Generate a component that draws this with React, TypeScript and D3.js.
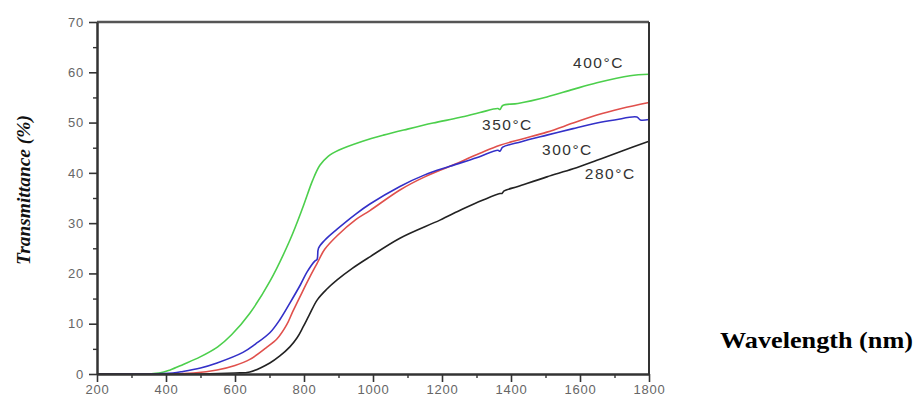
import { useEffect, useRef } from "react";
import * as d3 from "d3";

type Pt = [number, number];

// Transmittance (%) vs wavelength (nm)
const green400: Pt[] = [
  [200, 0], [300, 0], [380, 0.2], [412, 0.8], [450, 1.9], [499, 3.4], [550, 5.4],
  [590, 7.8], [643, 12.1], [701, 18.4], [759, 26.6], [797, 33.2], [825, 38.5],
  [846, 41.5], [870, 43.3], [900, 44.5], [970, 46.3], [1030, 47.5], [1100, 48.7],
  [1174, 49.9], [1250, 51], [1310, 52], [1362, 52.8], [1368, 52.6], [1376, 53.4],
  [1420, 53.8], [1504, 55.1], [1580, 56.6], [1649, 57.9], [1745, 59.3], [1800, 59.6],
];

const red350: Pt[] = [
  [200, 0], [400, 0], [480, 0.2], [548, 0.8], [600, 1.7], [643, 2.9], [690, 5.2],
  [722, 7], [750, 9.8], [768, 12.5], [795, 16.3], [817, 19.3], [838, 22], [860, 24.8],
  [896, 27.5], [950, 30.7], [991, 32.5], [1078, 36.6], [1150, 39.2], [1223, 41.3],
  [1310, 43.9], [1368, 45.5], [1430, 46.7], [1504, 48.1], [1580, 49.9], [1649, 51.5],
  [1720, 52.8], [1800, 54],
];

const blue300: Pt[] = [
  [200, 0], [350, 0], [420, 0.2], [449, 0.5], [500, 1.2], [548, 2.2], [623, 4.3],
  [660, 6], [701, 8.2], [730, 10.8], [759, 14.1], [790, 17.8], [809, 20.3], [832, 22.5],
  [838, 22.8], [842, 25], [860, 26.6], [896, 28.8], [950, 31.8], [991, 33.8],
  [1078, 37.3], [1150, 39.6], [1223, 41.3], [1300, 43], [1362, 44.5], [1368, 44.3],
  [1376, 45.1], [1430, 46.2], [1504, 47.5], [1580, 48.8], [1649, 49.9], [1700, 50.5],
  [1765, 51.1], [1775, 50.5], [1800, 50.6],
];

const black280: Pt[] = [
  [200, 0], [500, 0], [600, 0.2], [643, 0.4], [701, 2.2], [730, 3.6], [759, 5.4],
  [780, 7.2], [797, 9.3], [815, 11.7], [838, 14.7], [865, 16.8], [896, 18.7],
  [940, 21], [991, 23.3], [1078, 27], [1194, 30.6], [1260, 32.8], [1319, 34.6],
  [1368, 35.9], [1374, 35.9], [1380, 36.4], [1420, 37.3], [1504, 39.2], [1580, 40.8],
  [1649, 42.5], [1720, 44.3], [1800, 46.3],
];

const seriesNames = ["400°C", "350°C", "300°C", "280°C"];
const seriesColors = ["#4ccf4c", "#e0504c", "#3330c8", "#222222"];
const seriesData = [green400, red350, blue300, black280];
// where each curve label sits (nm, %)
const labelPos: Pt[] = [[1580, 60.8], [1316, 48.5], [1490, 43.5], [1614, 38.8]];

const xTicks = [200, 400, 600, 800, 1000, 1200, 1400, 1600, 1800];
const yTicks = [0, 10, 20, 30, 40, 50, 60, 70];

export default function App() {
  const svgRef = useRef<SVGSVGElement>(null);

  useEffect(() => {
    if (!svgRef.current) return;
    const svg = d3.select(svgRef.current);
    svg.selectAll("*").remove();

    const margin = { top: 22, left: 97, right: 269, bottom: 25 };
    const width = 918;
    const height = 399;
    const chartW = width - margin.left - margin.right;
    const chartH = height - margin.top - margin.bottom;

    const x = d3.scaleLinear().domain([200, 1800]).range([0, chartW]);
    const y = d3.scaleLinear().domain([0, 70]).range([chartH, 0]);

    const g = svg.append("g").attr("transform", `translate(${margin.left},${margin.top})`);

    // Curves
    const line = d3
      .line<Pt>()
      .x((d) => x(d[0]))
      .y((d) => Math.min(y(d[1]), chartH))
      .curve(d3.curveCatmullRom.alpha(0.5));

    seriesData.forEach((d, i) => {
      g.append("path")
        .datum(d)
        .attr("d", line)
        .attr("fill", "none")
        .attr("stroke", seriesColors[i])
        .attr("stroke-width", 1.6)
        .attr("stroke-linejoin", "round");
    });

    // Frame (top + right)
    g.append("line")
      .attr("x1", 0).attr("x2", chartW).attr("y1", 0).attr("y2", 0)
      .attr("stroke", "#555").attr("stroke-width", 2.5);
    g.append("line")
      .attr("x1", chartW).attr("x2", chartW).attr("y1", 0).attr("y2", chartH)
      .attr("stroke", "#333").attr("stroke-width", 2);

    const styleAxis = (sel: d3.Selection<SVGGElement, unknown, null, undefined>) => {
      sel.select(".domain").attr("stroke", "#333").attr("stroke-width", 2.5);
      sel.selectAll(".tick line").attr("stroke", "#333").attr("stroke-width", 1.6);
      sel.selectAll(".tick text")
        .attr("fill", "#666")
        .attr("font-size", "13px")
        .attr("letter-spacing", "0.8px")
        .attr("font-family", "Liberation Sans, Arial, sans-serif");
    };

    // Minor ticks
    g.append("g")
      .attr("transform", `translate(0,${chartH})`)
      .call(d3.axisBottom(x).tickValues(d3.range(300, 1800, 200)).tickSize(4).tickFormat(() => ""))
      .call((s) => s.select(".domain").remove())
      .call((s) => s.selectAll(".tick line").attr("stroke", "#333").attr("stroke-width", 1.4));
    g.append("g")
      .call(d3.axisLeft(y).tickValues(d3.range(5, 70, 10)).tickSize(4).tickFormat(() => ""))
      .call((s) => s.select(".domain").remove())
      .call((s) => s.selectAll(".tick line").attr("stroke", "#333").attr("stroke-width", 1.4));

    // X axis
    g.append("g")
      .attr("transform", `translate(0,${chartH})`)
      .call(d3.axisBottom(x).tickValues(xTicks).tickSize(8).tickSizeOuter(0).tickPadding(3).tickFormat((d) => String(d)))
      .call(styleAxis);

    // Y axis
    g.append("g")
      .call(d3.axisLeft(y).tickValues(yTicks).tickSize(8).tickSizeOuter(0).tickPadding(5).tickFormat((d) => String(d)))
      .call(styleAxis);

    // Curve labels
    seriesNames.forEach((name, i) => {
      g.append("text")
        .attr("x", x(labelPos[i][0]))
        .attr("y", y(labelPos[i][1]))
        .attr("fill", "#333")
        .attr("font-size", "15.5px")
        .attr("letter-spacing", "1.5px")
        .attr("font-family", "Liberation Sans, Arial, sans-serif")
        .text(name);
    });

    // Axis titles
    svg.append("text")
      .attr("transform", `translate(30,190) rotate(-90)`)
      .attr("text-anchor", "middle")
      .attr("font-family", "Liberation Serif, Times New Roman, serif")
      .attr("font-style", "italic")
      .attr("font-weight", "bold")
      .attr("font-size", "19px")
      .attr("fill", "#111")
      .attr("textLength", 150)
      .attr("lengthAdjust", "spacingAndGlyphs")
      .text("Transmittance (%)");

    svg.append("text")
      .attr("x", 720)
      .attr("y", 348)
      .attr("font-family", "Liberation Serif, Times New Roman, serif")
      .attr("font-weight", "bold")
      .attr("font-size", "23px")
      .attr("fill", "#000")
      .attr("textLength", 193)
      .attr("lengthAdjust", "spacingAndGlyphs")
      .text("Wavelength (nm)");
  }, []);

  return (
    <svg
      ref={svgRef}
      width={918}
      height={399}
      style={{ position: "absolute", left: 0, top: 0, background: "#fff" }}
      role="img"
      aria-label="Transmittance versus wavelength"
    />
  );
}
